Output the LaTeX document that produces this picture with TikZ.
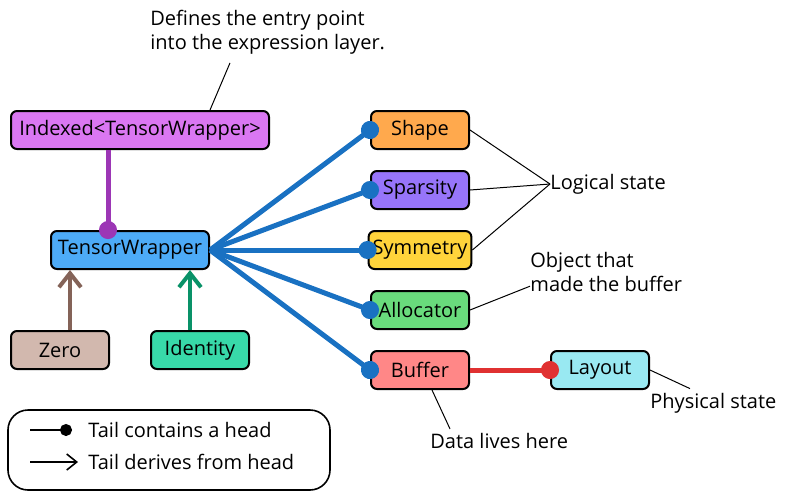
\documentclass[tikz,border=0pt]{standalone}
\usepackage{fontspec}
\setmainfont{Open Sans}
\usepackage{tikz}
\usetikzlibrary{positioning,arrows.meta}
\definecolor{palViolet}{HTML}{DA77F2}
\definecolor{palVioletDk}{HTML}{9C36B5}
\definecolor{palBlue}{HTML}{4DABF7}
\definecolor{palBlueDk}{HTML}{1971C2}
\definecolor{palBrown}{HTML}{D2B8AE}
\definecolor{palBrownDk}{HTML}{846358}
\definecolor{palTeal}{HTML}{38D9A9}
\definecolor{palTealDk}{HTML}{099268}
\definecolor{palOrange}{HTML}{FFA94D}
\definecolor{palPurple}{HTML}{9775FA}
\definecolor{palYellow}{HTML}{FFD43B}
\definecolor{palGreen}{HTML}{69DB7C}
\definecolor{palRed}{HTML}{FF8787}
\definecolor{palRedDk}{HTML}{E03131}
\definecolor{palCyan}{HTML}{99E9F2}
\tikzset{
  objbox/.style={draw=black, line width=1pt, rounded corners=3pt, minimum width=49pt,
                 minimum height=19pt, inner sep=2pt},
  notetext/.style={align=left, inner sep=0pt},
  noteline/.style={line width=0.5pt},
  containarrow/.style={line width=2.5pt, -{Circle[length=9pt]}, shorten >=-4.5pt},
  derivearrow/.style={line width=2pt, -{Straight Barb[length=7pt, width=11pt]}},
}

\begin{document}
\begin{tikzpicture}[x=0.5pt, y=-0.5pt]
\useasboundingbox (0,0) rectangle (804,500);
%% Nodes
\node[objbox, fill=palViolet, minimum width=129pt] (Idx) at (140,130) {Indexed<TensorWrapper>};
\node[objbox, fill=palBlue, minimum width=79pt] (TW) at (130,250) {TensorWrapper};
\node[objbox, fill=palBrown] (Zero) at (60,350) {Zero};
\node[objbox, fill=palTeal] (Ident) at (200,350) {Identity};
\node[objbox, fill=palOrange] (Shape) at (420,130) {Shape};
\node[objbox, fill=palPurple, below=10pt of Shape] (Spars) {Sparsity};
\node[objbox, fill=palYellow, below=10pt of Spars] (Symm) {Symmetry};
\node[objbox, fill=palGreen, below=10pt of Symm] (Alloc) {Allocator};
\node[objbox, fill=palRed, below=10pt of Alloc] (Buf) {Buffer};
\node[objbox, fill=palCyan, right=40pt of Buf] (Lay) {Layout};
%% Notes
\node[notetext, anchor=north west] (entrynote) at (150,10) {Defines the entry point\\into the expression layer.};
\node[notetext, anchor=west] (logical) at (550,184) {Logical state};
\node[notetext, anchor=north west] (objnote) at (530,252) {Object that\\made the buffer};
\node[notetext, anchor=west] (phys) at (650,403) {Physical state};
\node[notetext, anchor=west] (datanote) at (430,441) {Data lives here};
%% Edges
\draw[containarrow, palVioletDk] ([xshift=-11pt]TW.north |- Idx.south) -- ([xshift=-11pt]TW.north);
\foreach \dst in {Shape, Spars, Symm, Alloc, Buf}
  \draw[containarrow, palBlueDk] (TW.east) -- (\dst.west);
\draw[containarrow, palRedDk] (Buf.east) -- (Lay.west);
\draw[derivearrow, palBrownDk] ([xshift=5pt]Zero.north) -- ([xshift=5pt]Zero.north |- TW.south);
\draw[derivearrow, palTealDk] ([xshift=-5pt]Ident.north) -- ([xshift=-5pt]Ident.north |- TW.south);
%% Annotation lines
\draw[noteline] ([xshift=35pt]Idx.north) -- ([xshift=40pt, yshift=-4pt]entrynote.south west);
\foreach \src in {Shape, Spars, Symm}
  \draw[noteline] (\src.east) -- (logical.west);
\draw[noteline] (Alloc.east) -- ([yshift=3pt]objnote.south west);
\draw[noteline] (Lay.east) -- ([xshift=20pt, yshift=2pt]phys.north west);
\draw[noteline] ([xshift=6pt]Buf.south) -- ([xshift=10pt, yshift=2pt]datanote.north west);
%% Legend
\node[draw, line width=0.8pt, rounded corners=10pt, minimum width=161pt, minimum height=40pt] (legend) at (169,450) {};
\coordinate (k1) at (30,430);
\coordinate (k2) at (30,462);
\node[notetext, anchor=west] (t1) at (88,430) {Tail contains a head};
\node[notetext, anchor=west] (t2) at (88,462) {Tail derives from head};
\draw[line width=0.8pt, -{Circle[length=6pt]}] (k1) -- ([xshift=-8pt]t1.west);
\draw[line width=0.8pt, -{Straight Barb[length=5pt, width=8pt]}] (k2) -- ([xshift=-5pt]t2.west);
\end{tikzpicture}
\end{document}
